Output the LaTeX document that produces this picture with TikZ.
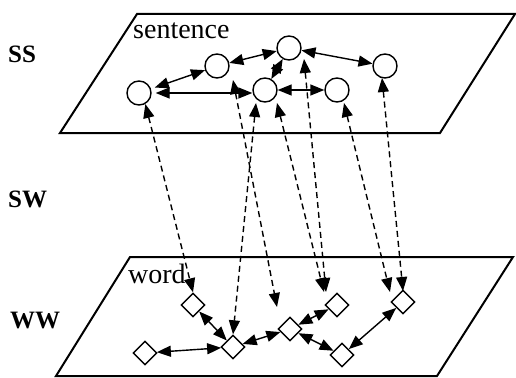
\documentclass[tikz,border=0pt]{standalone}
\usepackage{fontspec}
\setmainfont{Liberation Serif}
\usetikzlibrary{arrows.meta,shapes.geometric}
\begin{document}
\begin{tikzpicture}[x=1pt,y=-1pt,
  >={Triangle[length=14pt,width=11pt]},
  plane/.style={draw,fill=white,line width=2pt,line join=miter},
  snode/.style={circle,draw,fill=white,line width=1.4pt,minimum size=24pt,inner sep=0pt},
  wnode/.style={diamond,draw,fill=white,line width=1.4pt,minimum size=24pt,inner sep=0pt},
  link/.style={line width=1.4pt,<->},
  xlink/.style={link,dash pattern=on 6pt off 4pt},
  lvl/.style={font=\fontsize{25}{28}\selectfont\bfseries,anchor=base west,inner sep=0pt},
  ttl/.style={font=\fontsize{28}{32}\selectfont,anchor=base west,inner sep=0pt}]
\useasboundingbox (0,0) rectangle (516,377);

% planes
\draw[plane] (137,14) -- (515,14) -- (440,133) -- (60,133) -- cycle;
\draw[plane] (130,257) -- (513,257) -- (437,376) -- (56,376) -- cycle;

% level labels
\node[lvl] (ss) at (8,63) {SS};
\node[lvl] (sw) at (8,207) {SW};
\node[lvl] (ww) at (10,328) {WW};
\node[ttl] (tsent) at (133,39) {sentence};
\node[ttl] (tword) at (128,283) {word};

% sentence nodes
\node[snode] (C1) at (139,93) {};
\node[snode] (C2) at (217,66) {};
\node[snode] (C3) at (289,48) {};
\node[snode] (C4) at (385,66) {};
\node[snode] (C5) at (265,90) {};
\node[snode] (C6) at (337,90) {};

% word nodes
\node[wnode] (D1) at (193,305) {};
\node[wnode] (D2) at (233,347) {};
\node[wnode] (D3) at (145,353) {};
\node[wnode] (D4) at (290,329) {};
\node[wnode] (D5) at (337,305) {};
\node[wnode] (D6) at (403,302) {};
\node[wnode] (D7) at (342,355) {};

% cross-level links
\draw[xlink] (C1.-60) -- (D1.north);
\draw[xlink] ([shift={(16,14)}]C2.center) -- ([shift={(-13,-22)}]D4.center);
\draw[xlink] ([shift={(-9,13)}]C5.center) -- (D2.north);
\draw[xlink] ([shift={(12,13)}]C5.center) -- ([shift={(-13,-13)}]D5.center);
\draw[xlink] ([shift={(15,11)}]C3.center) -- ([shift={(-11,-13)}]D5.center);
\draw[xlink] ([shift={(7,13)}]C6.center) -- ([shift={(-13,-10)}]D6.center);
\draw[xlink] ([shift={(-3,12)}]C4.center) -- ([shift={(0,-11)}]D6.center);

% sentence links
\draw[link,shorten <=4pt] (C1) -- (C2);
\draw[link,shorten <=4pt] (C1.east) -- (C5.west |- C1.east);
\draw[link] (C2) -- (C3);
\draw[link] (C3) -- (C4);
\draw[link] (C5) -- (C3);
\draw[link] (C5) -- (C6);

% word links
\draw[link] (D1) -- (D2);
\draw[link] (D3) -- (D2);
\draw[link] (D2) -- (D4);
\draw[link] (D4) -- (D5);
\draw[link] (D4) -- (D7);
\draw[link] (D7) -- (D6);
\end{tikzpicture}
\end{document}
